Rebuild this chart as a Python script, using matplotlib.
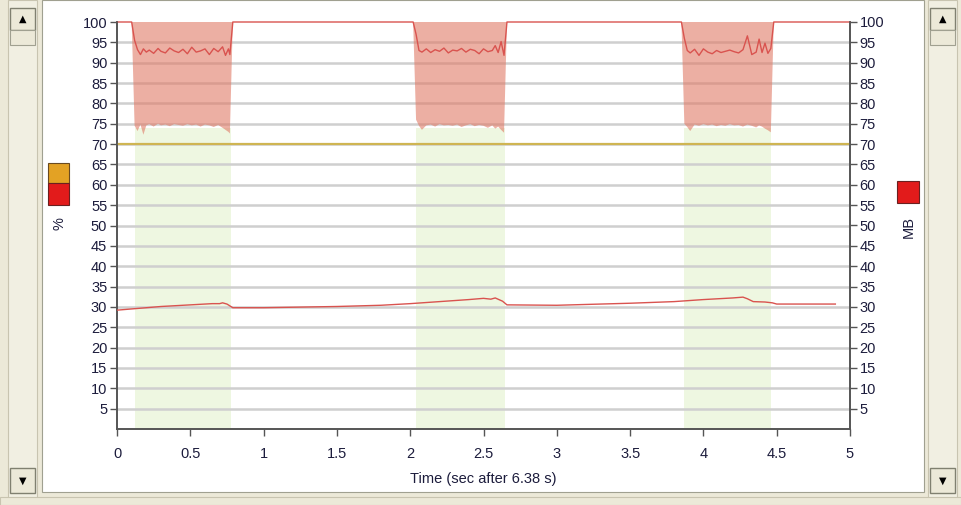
import matplotlib.pyplot as plt
from matplotlib.patches import Rectangle

# CPU (%) - busy periods, red line
busy1_t = [0.10, 0.12, 0.14, 0.16, 0.18, 0.20, 0.22, 0.25, 0.28, 0.30, 0.33, 0.36, 0.39, 0.42,
           0.45, 0.48, 0.51, 0.54, 0.57, 0.60, 0.63, 0.66, 0.69, 0.72, 0.74, 0.76, 0.77, 0.79]
busy1_cpu = [100, 95.5, 93.2, 92.0, 93.4, 92.6, 93.1, 92.3, 93.5, 92.8, 92.4, 93.6, 92.9, 92.5,
             93.3, 92.2, 93.8, 92.6, 92.9, 93.4, 92.0, 93.5, 92.7, 93.9, 91.8, 93.4, 92.0, 100]
busy1_low = [100, 74.5, 73.2, 74.8, 72.3, 74.6, 74.9, 74.3, 75.0, 74.6, 74.8, 74.4, 74.9, 74.7,
             74.5, 74.9, 74.6, 74.8, 74.3, 74.8, 74.6, 74.2, 74.7, 74.0, 73.5, 73.0, 72.6, 100]

busy2_t = [2.02, 2.04, 2.06, 2.08, 2.11, 2.14, 2.17, 2.20, 2.23, 2.26, 2.29, 2.32, 2.35, 2.38,
           2.41, 2.44, 2.47, 2.50, 2.53, 2.56, 2.58, 2.60, 2.62, 2.64, 2.66]
busy2_cpu = [100, 97.0, 93.0, 92.6, 93.4, 92.5, 93.2, 92.8, 93.6, 92.4, 93.1, 92.9, 93.5, 92.6,
             93.3, 93.0, 92.2, 93.4, 92.7, 93.0, 94.2, 92.5, 95.2, 91.8, 100]
busy2_low = [100, 76.0, 74.5, 73.5, 74.6, 74.8, 74.3, 74.9, 74.6, 74.7, 74.5, 74.8, 74.2, 74.6,
             74.9, 74.4, 74.7, 74.5, 74.0, 74.6, 73.8, 74.3, 73.5, 72.8, 100]

busy3_t = [3.85, 3.87, 3.89, 3.91, 3.94, 3.97, 4.00, 4.03, 4.06, 4.09, 4.12, 4.15, 4.18, 4.21,
           4.24, 4.27, 4.30, 4.33, 4.36, 4.38, 4.40, 4.42, 4.44, 4.46, 4.48]
busy3_cpu = [100, 96.0, 93.0, 92.4, 93.3, 91.8, 93.4, 92.6, 92.2, 93.0, 92.5, 92.8, 93.1, 92.7,
             92.4, 93.2, 96.6, 92.0, 92.6, 95.8, 92.5, 94.8, 92.3, 93.5, 100]
busy3_low = [100, 75.0, 74.2, 73.2, 74.8, 74.5, 74.9, 74.6, 74.8, 74.4, 74.7, 74.5, 74.9, 74.6,
             74.7, 74.3, 74.8, 74.5, 74.1, 74.6, 74.3, 73.8, 73.4, 72.9, 100]

busy_spans = [(0.125, 0.78), (2.04, 2.65), (3.87, 4.46)]

# memory (MB) - right axis
mb_t = [0.0, 0.10, 0.30, 0.50, 0.65, 0.70, 0.72, 0.75, 0.79, 1.00, 1.50, 1.80, 2.00, 2.20, 2.40,
        2.50, 2.55, 2.58, 2.63, 2.66, 3.00, 3.50, 3.80, 4.00, 4.20, 4.27, 4.30, 4.34, 4.42, 4.47,
        4.50, 4.90]
mb_val = [29.2, 29.5, 30.1, 30.5, 30.8, 30.8, 31.0, 30.7, 29.8, 29.8, 30.1, 30.4, 30.8, 31.3, 31.8,
          32.1, 31.9, 32.2, 31.4, 30.5, 30.4, 30.9, 31.3, 31.8, 32.2, 32.4, 32.0, 31.3, 31.2, 31.0,
          30.7, 30.7]

threshold = 70
x_ticks = [0, 0.5, 1, 1.5, 2, 2.5, 3, 3.5, 4, 4.5, 5]
x_labels = ['0', '0.5', '1', '1.5', '2', '2.5', '3', '3.5', '4', '4.5', '5']
y_ticks = list(range(5, 101, 5))

plt.rcParams['font.family'] = ['Liberation Sans', 'DejaVu Sans']
W, H = 961, 505
fig = plt.figure(figsize=(W / 100, H / 100), dpi=100)
fig.patch.set_facecolor('#ece9d8')


def frect(x, y, w, h, z=-5, **kw):
    # rectangle in pixel coords (top-left origin)
    fig.patches.append(Rectangle((x / W, 1 - (y + h) / H), w / W, h / H,
                                 transform=fig.transFigure, figure=fig, zorder=z, **kw))


# white panel and scrollbars
frect(42, 0, 882, 492, facecolor='white', edgecolor='#a0a090', linewidth=0.8)
for sx in (8, 928):
    frect(sx, 0, 29, 500, facecolor='#f1efe2', edgecolor='#c8c4b0', linewidth=0.8)
    frect(sx + 2, 8, 25, 22, facecolor='#ece9d8', edgecolor='#808070', linewidth=1)
    frect(sx + 2, 30, 25, 15, facecolor='#ece9d8', edgecolor='#a0a090', linewidth=0.8)
    frect(sx + 2, 468, 25, 25, facecolor='#ece9d8', edgecolor='#808070', linewidth=1)
    fig.text((sx + 14.5) / W, 1 - 19 / H, '\u25b2', ha='center', va='center', fontsize=7,
             family='DejaVu Sans')
    fig.text((sx + 14.5) / W, 1 - 481 / H, '\u25bc', ha='center', va='center', fontsize=7,
             family='DejaVu Sans')
frect(0, 497, W, 8, facecolor='#ece9d8', edgecolor='#c8c4b0', linewidth=0.8)

ax = fig.add_axes([117 / W, 1 - 429 / H, 733 / W, 407 / H])
ax.set_facecolor('none')
ax.set_xlim(0, 5)
ax.set_ylim(0, 100)

red_fill = '#e07a66'
green_fill = '#eef7e1'
red_line = '#d9534f'

for (a, b) in busy_spans:
    ax.axvspan(a, b, ymin=0, ymax=0.74, facecolor=green_fill, edgecolor='none', zorder=0)

for y in y_ticks[:-1]:
    ax.axhline(y, color='#cfcfcf', linewidth=1.8, zorder=1)

for bt, bc, bl in [(busy1_t, busy1_cpu, busy1_low), (busy2_t, busy2_cpu, busy2_low),
                   (busy3_t, busy3_cpu, busy3_low)]:
    ax.fill_between(bt, bl, 100, facecolor=red_fill, alpha=0.6, edgecolor='none', zorder=2)

ax.axhline(threshold, color='#cfb552', linewidth=1.6, zorder=3)

cpu_t = [0.0] + busy1_t + busy2_t + busy3_t + [5.0]
cpu_v = [100] + busy1_cpu + busy2_cpu + busy3_cpu + [100]
ax.plot(cpu_t, cpu_v, color=red_line, linewidth=1.0, zorder=4, clip_on=False)

ax2 = ax.twinx()
ax2.set_ylim(0, 100)
ax2.plot(mb_t, mb_val, color=red_line, linewidth=1.0, zorder=4)

ax.set_xticks(x_ticks)
ax.set_xticklabels(x_labels)
ax.set_yticks(y_ticks)
ax2.set_yticks(y_ticks)
lab_c = '#1c1c3c'
ax.tick_params(axis='x', direction='out', length=5, width=1, color='#555555',
               labelsize=10.5, labelcolor=lab_c, pad=8)
ax.tick_params(axis='y', direction='out', length=5, width=1, color='#555555',
               labelsize=10.5, labelcolor=lab_c, pad=2)
ax2.tick_params(axis='y', direction='out', length=5, width=1, color='#555555',
                labelsize=10.5, labelcolor=lab_c, pad=2)
for a_ in (ax, ax2):
    a_.spines['top'].set_visible(False)
    for s in ('left', 'right', 'bottom'):
        a_.spines[s].set_color('#555555')
        a_.spines[s].set_linewidth(1.2)

ax.set_xlabel('Time (sec after 6.38 s)', fontsize=10.5, color=lab_c, labelpad=8)

# legend swatches
frect(48, 163, 21, 20, z=2, facecolor='#e3a224', edgecolor='#6a4a20', linewidth=0.8)
frect(48, 183, 21, 22, z=2, facecolor='#e21b1b', edgecolor='#6a2020', linewidth=0.8)
fig.text(59 / W, 1 - 224 / H, '%', rotation=90, ha='center', va='center', fontsize=10.5,
         color=lab_c)
frect(897, 181, 22, 22, z=2, facecolor='#e21b1b', edgecolor='#6a2020', linewidth=0.8)
fig.text(909 / W, 1 - 227 / H, 'MB', rotation=90, ha='center', va='center', fontsize=10.5,
         color=lab_c)

fig.savefig('out.png', dpi=100, facecolor=fig.get_facecolor())
